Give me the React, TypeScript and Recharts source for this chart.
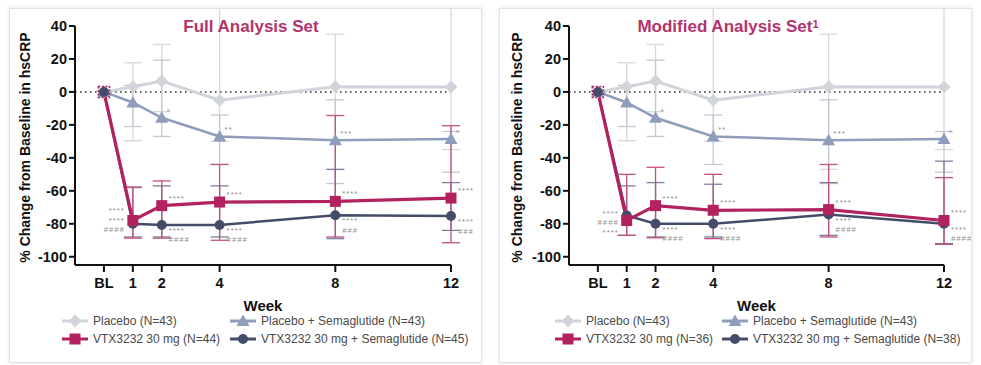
import React from 'react';
import { LineChart, Line, XAxis, YAxis, ErrorBar, ReferenceLine } from 'recharts';

const weeks = [0, 1, 2, 4, 8, 12];
const weekLabels = ['BL', '1', '2', '4', '8', '12'];
const yTicks = [-100, -80, -60, -40, -20, 0, 20, 40];

// placebo arms are the same in both analysis sets
const placebo = [0, 3.2, 6.6, -5, 3.2, 3];
const placeboLow = [0, -29.6, -12, -30, -47, -35];
const placeboHigh = [0, 17.7, 28.8, 60, 35, 60];
const placeboSema = [0, -6.4, -15.7, -27, -29.3, -28.6];
const placeboSemaLow = [0, -21, -27, -44, -55.6, -48.7];
const placeboSemaHigh = [0, 4, 19.3, -14, -4.8, -24];
const placeboSemaStars = ['', '', '*', '**', '***', '*'];

// Full Analysis Set
const fasVtx = [0, -78, -69, -66.8, -66.4, -64.4];
const fasVtxLow = [0, -88.7, -88.7, -90, -88, -91.5];
const fasVtxHigh = [0, -57.7, -54, -44, -14.3, -20.5];
const fasVtxSema = [0, -80, -80.7, -80.7, -74.8, -75.3];
const fasVtxSemaLow = [0, -88, -88, -88, -89, -84];
const fasVtxSemaHigh = [0, -58, -57, -57, -47, -55];
const fasVtxStars = ['', '****', '****', '****', '****', '****'];
const fasVtxSemaStars = ['', '****\n####', '****\n####', '****\n####', '****\n###', '****\n###'];
const fasLegend = ['Placebo (N=43)', 'Placebo + Semaglutide (N=43)', 'VTX3232 30 mg (N=44)', 'VTX3232 30 mg + Semaglutide (N=45)'];

// Modified Analysis Set
const masVtx = [0, -78, -69, -71.8, -71.4, -78];
const masVtxLow = [0, -87, -88.5, -89, -88, -92.5];
const masVtxHigh = [0, -50, -45.7, -50, -44, -52];
const masVtxSema = [0, -75, -80, -80, -74.4, -80];
const masVtxSemaLow = [0, -87, -88, -88, -87, -92];
const masVtxSemaHigh = [0, -57, -55, -56, -55, -42];
const masVtxStars = ['', '****', '****', '****', '****', '****'];
const masVtxSemaStars = ['', '****\n####', '****\n####', '****\n####', '****\n####', '****\n####'];
const masLegend = ['Placebo (N=43)', 'Placebo + Semaglutide (N=43)', 'VTX3232 30 mg (N=36)', 'VTX3232 30 mg + Semaglutide (N=38)'];

const FONT = '"Liberation Sans", Arial, sans-serif';
const TITLE_COLOR = '#b3346c';
const STAR_COLOR = '#8c8c8c';

type Shape = 'diamond' | 'triangle' | 'square' | 'circle';

const SERIES = {
  placebo: { color: '#d2d4db', err: '#d6d8de', shape: 'diamond' as Shape, width: 3 },
  pSema: { color: '#8e9dbc', err: '#c3c8d4', shape: 'triangle' as Shape, width: 2.5 },
  vtxSema: { color: '#434d6a', err: '#7a8098', shape: 'circle' as Shape, width: 2.5 },
  vtx: { color: '#b1225e', err: '#c4507f', shape: 'square' as Shape, width: 3.2 },
};

function MarkerShape({ shape, cx, cy, color, dashed }: { shape: Shape; cx: number; cy: number; color: string; dashed?: boolean }) {
  if (shape === 'diamond') {
    const s = 6.5;
    return <polygon points={`${cx},${cy - s} ${cx + s},${cy} ${cx},${cy + s} ${cx - s},${cy}`} fill={color} />;
  }
  if (shape === 'triangle') {
    return <polygon points={`${cx},${cy - 6.5} ${cx + 6.5},${cy + 5} ${cx - 6.5},${cy + 5}`} fill={color} />;
  }
  if (shape === 'square') {
    if (dashed) {
      return <rect x={cx - 5.5} y={cy - 5.5} width={11} height={11} fill="none" stroke={color} strokeWidth={1.6} strokeDasharray="2 1.5" />;
    }
    return <rect x={cx - 5.5} y={cy - 5.5} width={11} height={11} fill={color} />;
  }
  return <circle cx={cx} cy={cy} r={5} fill={color} />;
}

function Stars({ x, y, text, anchor }: { x: number; y: number; text: string; anchor: 'start' | 'end' }) {
  return (
    <text x={x} y={y} fontSize={7.5} fill={STAR_COLOR} textAnchor={anchor} dominantBaseline="middle" letterSpacing={1.1} fontStyle={text.startsWith('#') ? 'italic' : 'normal'} fontFamily={FONT}>
      {text}
    </text>
  );
}

// dot renderer that also writes the significance marks next to each point
function makeDot(key: keyof typeof SERIES, stars: string[] | null, w1Dy: number) {
  const s = SERIES[key];
  return (props: any) => {
    const { cx, cy, index } = props;
    if (cx == null || cy == null) return <g key={`d-${key}-${index}`} />;
    const lines = stars && stars[index] ? stars[index].split('\n') : [];
    const left = index === 1;
    let first = -7;
    if (key === 'pSema') first = -6;
    if (key === 'vtxSema') first = 6;
    if (left) first = w1Dy;
    return (
      <g key={`d-${key}-${index}`}>
        <MarkerShape shape={s.shape} cx={cx} cy={cy} color={s.color} dashed={key === 'vtx' && index === 0} />
        {lines.map((t, i) => (
          <Stars key={i} x={left ? cx - 8 : cx + (key === 'pSema' ? 5 : 7)} y={cy + first + i * 9.5} text={t} anchor={left ? 'end' : 'start'} />
        ))}
      </g>
    );
  };
}

function errPair(v: number[], lo: number[], hi: number[], i: number) {
  if (i === 0) return null;
  return [v[i] - lo[i], hi[i] - v[i]];
}

interface PanelProps {
  title: string;
  sup?: string;
  left: number;
  yAxisWidth: number;
  rightMargin: number;
  titleX: number;
  vtx: number[]; vtxLow: number[]; vtxHigh: number[];
  vtxSema: number[]; vtxSemaLow: number[]; vtxSemaHigh: number[];
  vtxStars: string[]; vtxSemaStars: string[];
  vtxW1Dy: number; vtxSemaW1Dy: number;
  legend: string[];
  legendX: number[];
}

function LegendMark({ shape, color }: { shape: Shape; color: string }) {
  return (
    <svg width={28} height={14} style={{ display: 'block' }}>
      <line x1={1} y1={7} x2={27} y2={7} stroke={color} strokeWidth={3} />
      <MarkerShape shape={shape} cx={14} cy={7} color={color} />
    </svg>
  );
}

function Panel(p: PanelProps) {
  const rows = weeks.map((w, i) => ({
    week: w,
    placebo: placebo[i],
    placeboErr: errPair(placebo, placeboLow, placeboHigh, i),
    pSema: placeboSema[i],
    pSemaErr: errPair(placeboSema, placeboSemaLow, placeboSemaHigh, i),
    vtx: p.vtx[i],
    vtxErr: errPair(p.vtx, p.vtxLow, p.vtxHigh, i),
    vtxSema: p.vtxSema[i],
    vtxSemaErr: errPair(p.vtxSema, p.vtxSemaLow, p.vtxSemaHigh, i),
  }));

  const legendItems: { key: keyof typeof SERIES; row: number; col: number }[] = [
    { key: 'placebo', row: 0, col: 0 },
    { key: 'pSema', row: 0, col: 1 },
    { key: 'vtx', row: 1, col: 0 },
    { key: 'vtxSema', row: 1, col: 1 },
  ];

  return (
    <div
      style={{
        position: 'absolute', left: p.left, top: 8, width: 473, height: 355, boxSizing: 'border-box',
        border: '1px solid #dde3ea', boxShadow: '0 0 4px rgba(120,140,160,0.25)', background: '#fff',
      }}
    >
      <LineChart width={471} height={353} data={rows} margin={{ top: 17, right: p.rightMargin, bottom: 67, left: 0 }}>
        <XAxis
          dataKey="week"
          type="number"
          domain={[-1, 12]}
          ticks={weeks}
          tickFormatter={(v: number) => weekLabels[weeks.indexOf(v)]}
          axisLine={{ stroke: '#111', strokeWidth: 2 }}
          tickLine={{ stroke: '#111', strokeWidth: 2 }}
          tickSize={7}
          tickMargin={6}
          height={30}
          tick={{ fill: '#111', fontSize: 14.5, fontWeight: 700, fontFamily: FONT }}
          label={{ value: 'Week', position: 'bottom', offset: 5, fill: '#111', fontSize: 15, fontWeight: 700, fontFamily: FONT }}
        />
        <YAxis
          type="number"
          domain={[-105, 40]}
          allowDataOverflow
          ticks={yTicks}
          width={p.yAxisWidth}
          axisLine={{ stroke: '#111', strokeWidth: 2 }}
          tickLine={{ stroke: '#111', strokeWidth: 2 }}
          tickSize={6}
          tickMargin={2}
          tick={{ fill: '#111', fontSize: 14.5, fontWeight: 700, fontFamily: FONT }}
          label={{
            content: (lp: any) => {
              const vb = lp.viewBox || { x: 0, y: 17, width: p.yAxisWidth, height: 239 };
              const x = vb.x + (p.yAxisWidth > 66 ? 18 : 16);
              const y = vb.y + vb.height / 2 + 2;
              return (
                <text x={x} y={y} transform={`rotate(-90 ${x} ${y})`} textAnchor="middle" dominantBaseline="middle" fontSize={14} fontWeight={700} fill="#111" fontFamily={FONT}>
                  % Change from Baseline in hsCRP
                </text>
              );
            },
          }}
        />
        <ReferenceLine y={0} stroke="#333" strokeWidth={1.6} strokeDasharray="1.6 3.4" />
        <Line dataKey="placebo" stroke={SERIES.placebo.color} strokeWidth={SERIES.placebo.width} dot={makeDot('placebo', null, 0)} activeDot={false} isAnimationActive={false}>
          <ErrorBar dataKey="placeboErr" width={9} stroke={SERIES.placebo.err} strokeWidth={1.3} direction="y" />
        </Line>
        <Line dataKey="pSema" stroke={SERIES.pSema.color} strokeWidth={SERIES.pSema.width} dot={makeDot('pSema', placeboSemaStars, -6)} activeDot={false} isAnimationActive={false}>
          <ErrorBar dataKey="pSemaErr" width={9} stroke={SERIES.pSema.err} strokeWidth={1.3} direction="y" />
        </Line>
        <Line dataKey="vtxSema" stroke={SERIES.vtxSema.color} strokeWidth={SERIES.vtxSema.width} dot={makeDot('vtxSema', p.vtxSemaStars, p.vtxSemaW1Dy)} activeDot={false} isAnimationActive={false}>
          <ErrorBar dataKey="vtxSemaErr" width={9} stroke={SERIES.vtxSema.err} strokeWidth={1.3} direction="y" />
        </Line>
        <Line dataKey="vtx" stroke={SERIES.vtx.color} strokeWidth={SERIES.vtx.width} dot={makeDot('vtx', p.vtxStars, p.vtxW1Dy)} activeDot={false} isAnimationActive={false}>
          <ErrorBar dataKey="vtxErr" width={9} stroke={SERIES.vtx.err} strokeWidth={1.3} direction="y" />
        </Line>
      </LineChart>
      <div
        style={{
          position: 'absolute', left: p.titleX, top: 8, transform: 'translateX(-50%)', whiteSpace: 'nowrap',
          color: TITLE_COLOR, fontFamily: FONT, fontWeight: 700, fontSize: 17, lineHeight: '20px',
        }}
      >
        {p.title}
        {p.sup ? <span style={{ fontSize: 11, verticalAlign: 'top', lineHeight: '14px' }}>{p.sup}</span> : null}
      </div>
      {legendItems.map((it, i) => (
        <div
          key={it.key}
          style={{
            position: 'absolute', left: p.legendX[it.col], top: 305 + it.row * 18, height: 14,
            display: 'flex', alignItems: 'center', gap: 4, whiteSpace: 'nowrap',
            fontFamily: FONT, fontSize: 12, color: '#4a4a4a',
          }}
        >
          <LegendMark shape={SERIES[it.key].shape} color={SERIES[it.key].color} />
          <span>{p.legend[i]}</span>
        </div>
      ))}
    </div>
  );
}

export default function App() {
  return (
    <div style={{ position: 'absolute', left: 0, top: 0, width: 981, height: 365, background: '#fff', overflow: 'hidden' }}>
      <Panel
        title="Full Analysis Set"
        left={9}
        yAxisWidth={65}
        rightMargin={30}
        titleX={241}
        vtx={fasVtx} vtxLow={fasVtxLow} vtxHigh={fasVtxHigh}
        vtxSema={fasVtxSema} vtxSemaLow={fasVtxSemaLow} vtxSemaHigh={fasVtxSemaHigh}
        vtxStars={fasVtxStars} vtxSemaStars={fasVtxSemaStars}
        vtxW1Dy={-9} vtxSemaW1Dy={-3}
        legend={fasLegend}
        legendX={[51, 219]}
      />
      <Panel
        title="Modified Analysis Set"
        sup="1"
        left={499}
        yAxisWidth={69}
        rightMargin={27}
        titleX={228}
        vtx={masVtx} vtxLow={masVtxLow} vtxHigh={masVtxHigh}
        vtxSema={masVtxSema} vtxSemaLow={masVtxSemaLow} vtxSemaHigh={masVtxSemaHigh}
        vtxStars={masVtxStars} vtxSemaStars={masVtxSemaStars}
        vtxW1Dy={13} vtxSemaW1Dy={-2}
        legend={masLegend}
        legendX={[54, 221]}
      />
    </div>
  );
}
